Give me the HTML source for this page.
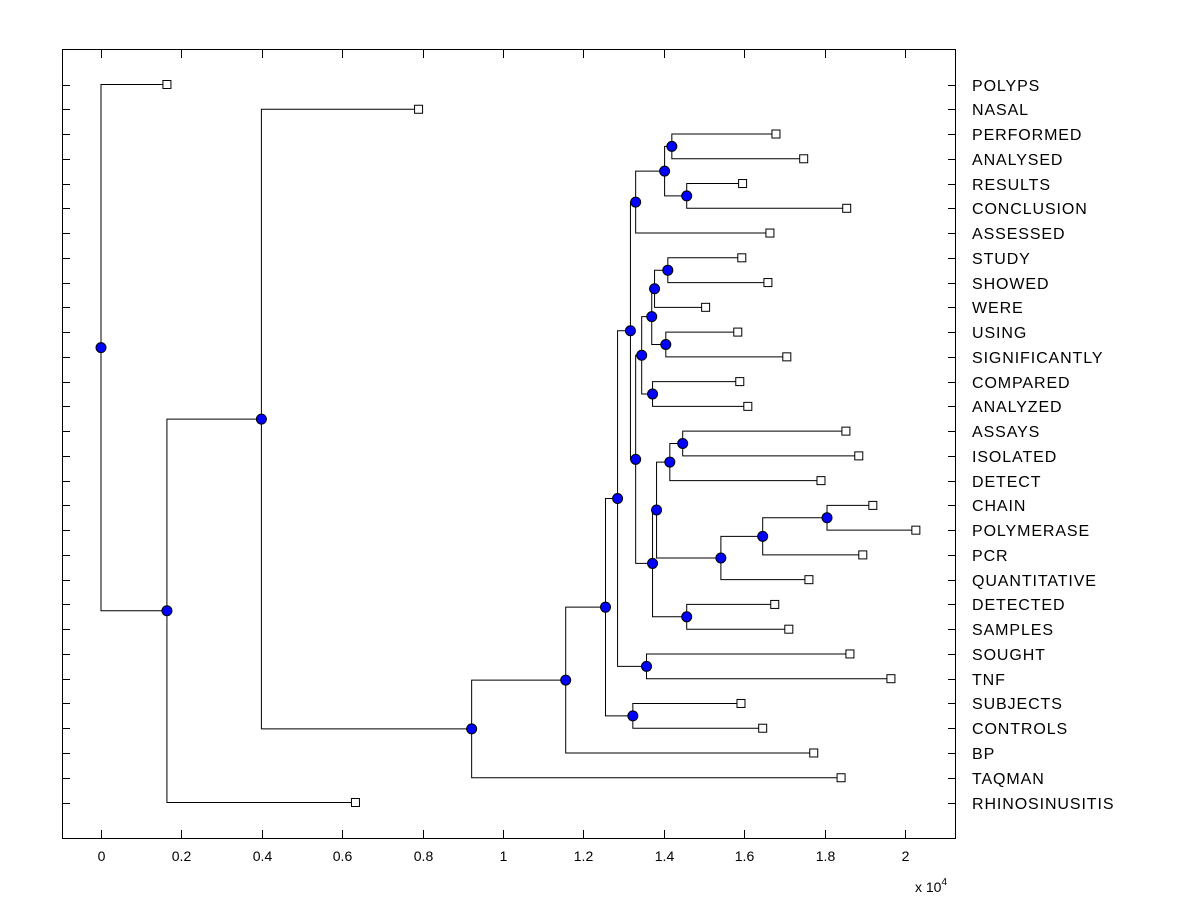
<!DOCTYPE html>
<html><head><meta charset="utf-8"><style>
html,body{margin:0;padding:0;background:#fff;}
svg{display:block;font-family:"Liberation Sans",Arial,sans-serif;}
</style></head><body>
<svg id="chart" width="1200" height="900" viewBox="0 0 1200 900" xmlns="http://www.w3.org/2000/svg">
<rect x="0" y="0" width="1200" height="900" fill="#fff"/>
<rect x="62.5" y="49.5" width="893" height="789" fill="none" stroke="#000" stroke-width="1"/>
<g id="ticks"></g>
<g id="links"></g>
<g id="marks"></g>
<g id="labels"></g>
<text x="915" y="892" font-size="14">x 10<tspan dy="-7" font-size="10">4</tspan></text>
</svg>
<script>
const leafNames = ["POLYPS","NASAL","PERFORMED","ANALYSED","RESULTS","CONCLUSION","ASSESSED","STUDY","SHOWED","WERE","USING","SIGNIFICANTLY","COMPARED","ANALYZED","ASSAYS","ISOLATED","DETECT","CHAIN","POLYMERASE","PCR","QUANTITATIVE","DETECTED","SAMPLES","SOUGHT","TNF","SUBJECTS","CONTROLS","BP","TAQMAN","RHINOSINUSITIS"];
const leafValues = [0.164,0.79,1.679,1.748,1.596,1.855,1.664,1.594,1.659,1.504,1.584,1.706,1.589,1.609,1.853,1.885,1.791,1.920,2.027,1.895,1.761,1.676,1.711,1.863,1.965,1.592,1.646,1.773,1.841,0.633];
// internal nodes: [name, left child, right child, height]
const nodeNames = ["A","B","C","D","E","F","G","H","I","J","L","M","N","O","P","Q","R","S","Tp","K","U","V","W","X","Y","Z","AA","AB","ROOT"];
const nodeLeft  = ["PERFORMED","RESULTS","A","C","STUDY","E","USING","F","COMPARED","H","ASSAYS","L","CHAIN","N","O","M","DETECTED","Q","J","D","SOUGHT","K","SUBJECTS","V","X","Y","NASAL","AA","POLYPS"];
const nodeRight = ["ANALYSED","CONCLUSION","B","ASSESSED","SHOWED","WERE","SIGNIFICANTLY","G","ANALYZED","I","ISOLATED","DETECT","POLYMERASE","PCR","QUANTITATIVE","P","SAMPLES","R","S","Tp","TNF","U","CONTROLS","W","BP","TAQMAN","Z","RHINOSINUSITIS","AB"];
const nodeHeights = [1.420,1.457,1.402,1.330,1.410,1.377,1.405,1.370,1.372,1.345,1.447,1.415,1.806,1.646,1.542,1.382,1.457,1.372,1.330,1.317,1.357,1.285,1.323,1.255,1.156,0.922,0.399,0.164,0];
const xTicks = [0,0.2,0.4,0.6,0.8,1,1.2,1.4,1.6,1.8,2];
const xTickLabels = ["0","0.2","0.4","0.6","0.8","1","1.2","1.4","1.6","1.8","2"];

const NS="http://www.w3.org/2000/svg";
const X0=101, XU=402, Y0=84.5, YS=(802.5-84.5)/29;
const xs=v=>X0+v*XU;
const ys=i=>Y0+i*YS;
function mk(tag,attrs,parent){const e=document.createElementNS(NS,tag);for(const k in attrs)e.setAttribute(k,attrs[k]);parent.appendChild(e);return e;}

const ticksG=document.getElementById('ticks');
xTicks.forEach((t,i)=>{
  const x=Math.round(xs(t))+0.5;
  const a=mk('line',{x1:x,x2:x,y1:838,y2:830,stroke:'#000'},ticksG);
  
  
  const b=mk('line',{x1:x,x2:x,y1:50,y2:58,stroke:'#000'},ticksG);
  
  
  const tl=mk('text',{x:x,y:861,'font-size':14,'text-anchor':'middle'},ticksG);
  tl.textContent=xTickLabels[i];
  
  
});

const pos={};
leafNames.forEach((n,i)=>{pos[n]={x:leafValues[i],y:ys(i),leaf:true};});
const labelsG=document.getElementById('labels');
leafNames.forEach((n,i)=>{
  const y=Math.round(ys(i))+0.5;
  const a=mk('line',{x1:62,x2:70,y1:y,y2:y,stroke:'#000'},ticksG);
  
  
  const b=mk('line',{x1:956,x2:948,y1:y,y2:y,stroke:'#000'},ticksG);
  
  
  const t=mk('text',{x:972,y:y+5.5,'font-size':16,'letter-spacing':0.9},labelsG);
  t.textContent=n;
  
  
});

const linksG=document.getElementById('links'), marksG=document.getElementById('marks');
const dots=[];
nodeNames.forEach((n,i)=>{
  const l=pos[nodeLeft[i]], r=pos[nodeRight[i]];
  const h=nodeHeights[i];
  const y=(l.y+r.y)/2;
  pos[n]={x:h,y:y,leaf:false};
  const nx=xs(h);
  const p=mk('path',{d:`M${xs(l.x)},${l.y}H${nx}V${r.y}H${xs(r.x)}`,fill:'none',stroke:'#000','stroke-width':1},linksG);
  
  
  dots.push([nx,y]);
});
leafNames.forEach(n=>{
  const p=pos[n];
  const s=mk('rect',{x:xs(p.x)-4,y:p.y-4,width:8,height:8,fill:'#fff',stroke:'#000'},marksG);
  
  
});
dots.forEach(d=>{
  const c=mk('circle',{cx:d[0],cy:d[1],r:5,fill:'#0000ff',stroke:'#000','stroke-width':1},marksG);
  
  
});
</script>
</body></html>
